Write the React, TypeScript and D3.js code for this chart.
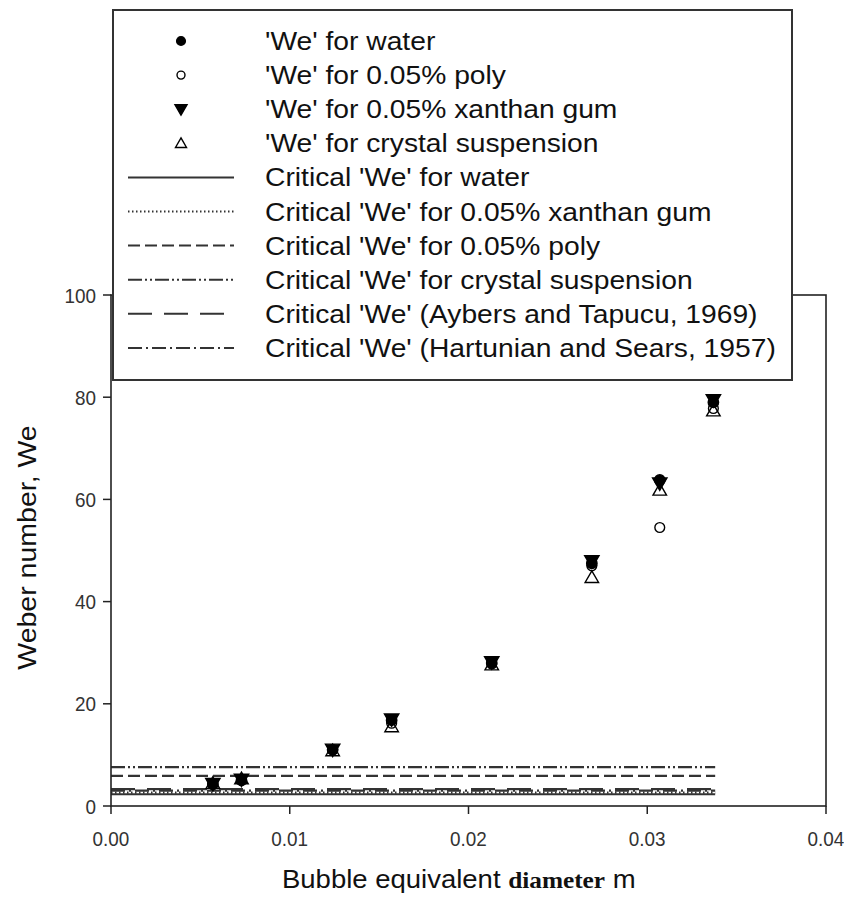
import React from "react";
import * as d3 from "d3";

const diameters = [0.0057, 0.0073, 0.0124, 0.0157, 0.0213, 0.0269, 0.0307, 0.0337];
const weWater = [4.3, 5.0, 11.0, 16.8, 28.0, 47.5, 63.8, 79.0];
const wePoly = [4.2, 5.1, 11.0, 16.2, 27.8, 47.0, 54.5, 77.8];
const weXanthan = [4.4, 5.2, 11.1, 17.0, 28.2, 48.0, 63.2, 79.5];
const weCrystal = [4.4, 5.3, 10.8, 15.5, 27.6, 44.7, 61.8, 77.3];

const criticalNames = [
  "Critical 'We' for water",
  "Critical 'We' for 0.05% xanthan gum",
  "Critical 'We' for 0.05% poly",
  "Critical 'We' for crystal suspension",
  "Critical 'We' (Aybers and Tapucu, 1969)",
  "Critical 'We' (Hartunian and Sears, 1957)",
];
const criticalValues = [2.3, 2.6, 5.9, 7.6, 3.3, 3.0];
const criticalDash = ["", "1.5,2.5", "12,5", "14,3,2,3,2,3", "24,12", "14,4,2,4"];
const criticalEnd = 0.0338;

const seriesNames = [
  "'We' for water",
  "'We' for 0.05% poly",
  "'We' for 0.05% xanthan gum",
  "'We' for crystal suspension",
];
const seriesValues = [weWater, wePoly, weXanthan, weCrystal];
const seriesKind = ["filledCircle", "openCircle", "filledDown", "openUp"];

const xTicks = [0, 0.01, 0.02, 0.03, 0.04];
const yTicks = [0, 20, 40, 60, 80, 100];

const W = 844;
const H = 897;
const left = 111, right = 826, top = 295, bottom = 806;

function markerPath(kind: string, size: number) {
  if (kind === "filledCircle" || kind === "openCircle") {
    return d3.symbol().type(d3.symbolCircle).size(size)()!;
  }
  return d3.symbol().type(d3.symbolTriangle).size(size * 1.05)()!;
}

function Marker({ kind, x, y, size }: { kind: string; x: number; y: number; size: number }) {
  const d = markerPath(kind, size);
  const filled = kind === "filledCircle" || kind === "filledDown";
  const rot = kind === "filledDown" ? " rotate(180)" : "";
  const dy = kind === "openUp" ? 1 : kind === "filledDown" ? -1 : 0;
  return (
    <path
      d={d}
      transform={`translate(${x},${y + dy})${rot}`}
      fill={filled ? "#000" : "none"}
      stroke="#000"
      strokeWidth={1.4}
    />
  );
}

export default function App() {
  const x = d3.scaleLinear().domain([0, 0.04]).range([left, right]);
  const y = d3.scaleLinear().domain([0, 100]).range([bottom, top]);
  const font = "Arial, 'Liberation Sans', sans-serif";

  const legendRows = [...seriesNames, ...criticalNames];
  const rowY = (i: number) => 41 + 34.1 * i;

  return (
    <svg width={W} height={H} style={{ position: "absolute", left: 0, top: 0, background: "#fff" }}>
      <rect x={0} y={0} width={W} height={H} fill="#fff" />
      {/* critical lines */}
      {criticalValues.map((v, i) => (
        <line
          key={"c" + i}
          x1={x(0)}
          x2={x(criticalEnd)}
          y1={y(v)}
          y2={y(v)}
          stroke="#333"
          strokeWidth={2.2}
          strokeDasharray={criticalDash[i] || undefined}
        />
      ))}
      {/* data points */}
      {seriesValues.map((vals, si) =>
        vals.map((v, j) => (
          <Marker key={`m${si}-${j}`} kind={seriesKind[si]} x={x(diameters[j])} y={y(v)} size={si % 2 === 0 ? 85 : 75} />
        ))
      )}
      {/* frame */}
      <rect x={left} y={top} width={right - left} height={bottom - top} fill="none" stroke="#222" strokeWidth={1.6} />
      {/* x ticks */}
      {xTicks.map((t) => (
        <g key={"xt" + t}>
          <line x1={x(t)} x2={x(t)} y1={bottom} y2={bottom + 8} stroke="#222" strokeWidth={1.5} />
          <text
            transform={`translate(${x(t)},${bottom + 40}) scale(0.9,1)`}
            textAnchor="middle"
            fontFamily={font}
            fontSize={21}
            fill="#333"
          >
            {d3.format(".2f")(t)}
          </text>
        </g>
      ))}
      {/* y ticks */}
      {yTicks.map((t) => (
        <g key={"yt" + t}>
          <line x1={left - 8} x2={left} y1={y(t)} y2={y(t)} stroke="#222" strokeWidth={1.5} />
          <text
            transform={`translate(${left - 15},${y(t) + 7.5}) scale(0.9,1)`}
            textAnchor="end"
            fontFamily={font}
            fontSize={21}
            fill="#333"
          >
            {t}
          </text>
        </g>
      ))}
      {/* axis titles */}
      <text
        transform={`translate(36,${(top + bottom) / 2 - 3}) rotate(-90) scale(1.14,1)`}
        textAnchor="middle"
        fontFamily={font}
        fontSize={25}
        fill="#111"
      >
        Weber number, We
      </text>
      <text transform={`translate(282,888) scale(1.1,1)`} fontFamily={font} fontSize={25} fill="#111">
        <tspan>Bubble equivalent </tspan>
        <tspan fontFamily="'Liberation Serif', 'DejaVu Serif', serif" fontWeight="bold" fontSize={23}>
          diameter
        </tspan>
        <tspan> m</tspan>
      </text>
      {/* legend */}
      <rect x={113} y={10} width={679} height={370} fill="#fff" stroke="#333" strokeWidth={2} />
      {legendRows.map((name, i) => {
        const ry = rowY(i);
        return (
          <g key={"lg" + i}>
            {i < 4 ? (
              <Marker kind={seriesKind[i]} x={181} y={ry} size={i % 2 === 0 ? 60 : 50} />
            ) : (
              <line
                x1={128}
                x2={234}
                y1={ry}
                y2={ry}
                stroke="#333"
                strokeWidth={2}
                strokeDasharray={criticalDash[i - 4] || undefined}
              />
            )}
            <text
              transform={`translate(265,${ry + 9}) scale(1.13,1)`}
              fontFamily={font}
              fontSize={25}
              fill="#111"
            >
              {name}
            </text>
          </g>
        );
      })}
    </svg>
  );
}
